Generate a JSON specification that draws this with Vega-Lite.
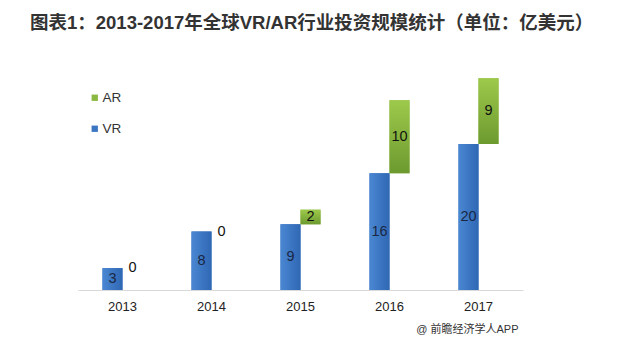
{
  "$schema": "https://vega.github.io/schema/vega-lite/v6.json",
  "width": 445,
  "height": 219,
  "autosize": {"type": "none"},
  "padding": {"left": 78, "top": 71, "right": 101, "bottom": 62},
  "background": "white",
  "config": {"view": {"stroke": null}},
  "title": {
    "text": "图表1：2013-2017年全球VR/AR行业投资规模统计（单位：亿美元）",
    "anchor": "start",
    "dx": -48,
    "offset": 39,
    "fontSize": 18.5,
    "fontWeight": "bold",
    "font": "Liberation Sans, Noto Sans CJK SC",
    "color": "#333333"
  },
  "data": {
    "values": [
      {"year": "2013", "series": "VR", "value": 3},
      {"year": "2013", "series": "AR", "value": 0},
      {"year": "2014", "series": "VR", "value": 8},
      {"year": "2014", "series": "AR", "value": 0},
      {"year": "2015", "series": "VR", "value": 9},
      {"year": "2015", "series": "AR", "value": 2},
      {"year": "2016", "series": "VR", "value": 16},
      {"year": "2016", "series": "AR", "value": 10},
      {"year": "2017", "series": "VR", "value": 20},
      {"year": "2017", "series": "AR", "value": 9}
    ]
  },
  "transform": [
    {"stack": "value", "groupby": ["year"], "sort": [{"field": "series", "order": "descending"}], "as": ["v0", "v1"]}
  ],
  "encoding": {
    "x": {
      "field": "year",
      "type": "nominal",
      "scale": {"paddingInner": 0.55, "paddingOuter": 0.275},
      "axis": {
        "labelAngle": 0,
        "ticks": false,
        "domainColor": "#d9d9d9",
        "labelFontSize": 13,
        "labelFont": "Liberation Sans",
        "labelColor": "#222222",
        "labelPadding": 10,
        "title": "@ 前瞻经济学人APP",
        "titleFont": "Liberation Sans, Noto Sans CJK SC",
        "titleFontSize": 11,
        "titleFontWeight": "normal",
        "titleColor": "#333333",
        "titleAnchor": "end",
        "titleX": 440,
        "titleAlign": "right",
        "titlePadding": 10
      }
    },
    "xOffset": {"field": "series", "type": "nominal", "scale": {"domain": ["VR", "AR"]}}
  },
  "layer": [
    {
      "mark": {"type": "bar"},
      "encoding": {
        "y": {"field": "v0", "type": "quantitative", "scale": {"domain": [0, 30], "nice": false}, "axis": null},
        "y2": {"field": "v1"},
        "color": {
          "field": "series",
          "type": "nominal",
          "scale": {"domain": ["AR", "VR"], "range": ["#8bb843", "#3b76c2"]},
          "legend": {
            "title": null,
            "orient": "none",
            "legendX": 10,
            "legendY": 20,
            "symbolType": "square",
            "symbolSize": 40,
            "symbolStrokeWidth": 0,
            "labelFont": "Liberation Sans",
            "labelFontSize": 13.5,
            "labelColor": "#333333",
            "labelOffset": 1,
            "rowPadding": 16
          }
        }
      }
    },
    {
      "mark": {"type": "bar"},
      "encoding": {
        "y": {"field": "v0", "type": "quantitative"},
        "y2": {"field": "v1"},
        "fill": {
          "condition": {
            "test": "datum.series === 'AR'",
            "value": {"gradient": "linear", "x1": 0, "y1": 0, "x2": 0, "y2": 1, "stops": [{"offset": 0, "color": "#9dc94b"}, {"offset": 1, "color": "#6d9a2f"}]}
          },
          "value": {"gradient": "linear", "x1": 0, "y1": 0, "x2": 1, "y2": 0, "stops": [{"offset": 0, "color": "#4a87d2"}, {"offset": 1, "color": "#2f67b3"}]}
        }
      }
    },
    {
      "transform": [{"fold": ["v0", "v1"], "as": ["k", "pos"]}],
      "mark": {"type": "text", "font": "Liberation Sans", "fontSize": 14.5, "baseline": "middle"},
      "encoding": {
        "y": {"aggregate": "mean", "field": "pos", "type": "quantitative"},
        "text": {"field": "value", "type": "nominal"},
        "color": {
          "condition": {"test": "datum.series === 'VR'", "value": "#1a2744"},
          "value": "#111111"
        }
      }
    }
  ]
}
